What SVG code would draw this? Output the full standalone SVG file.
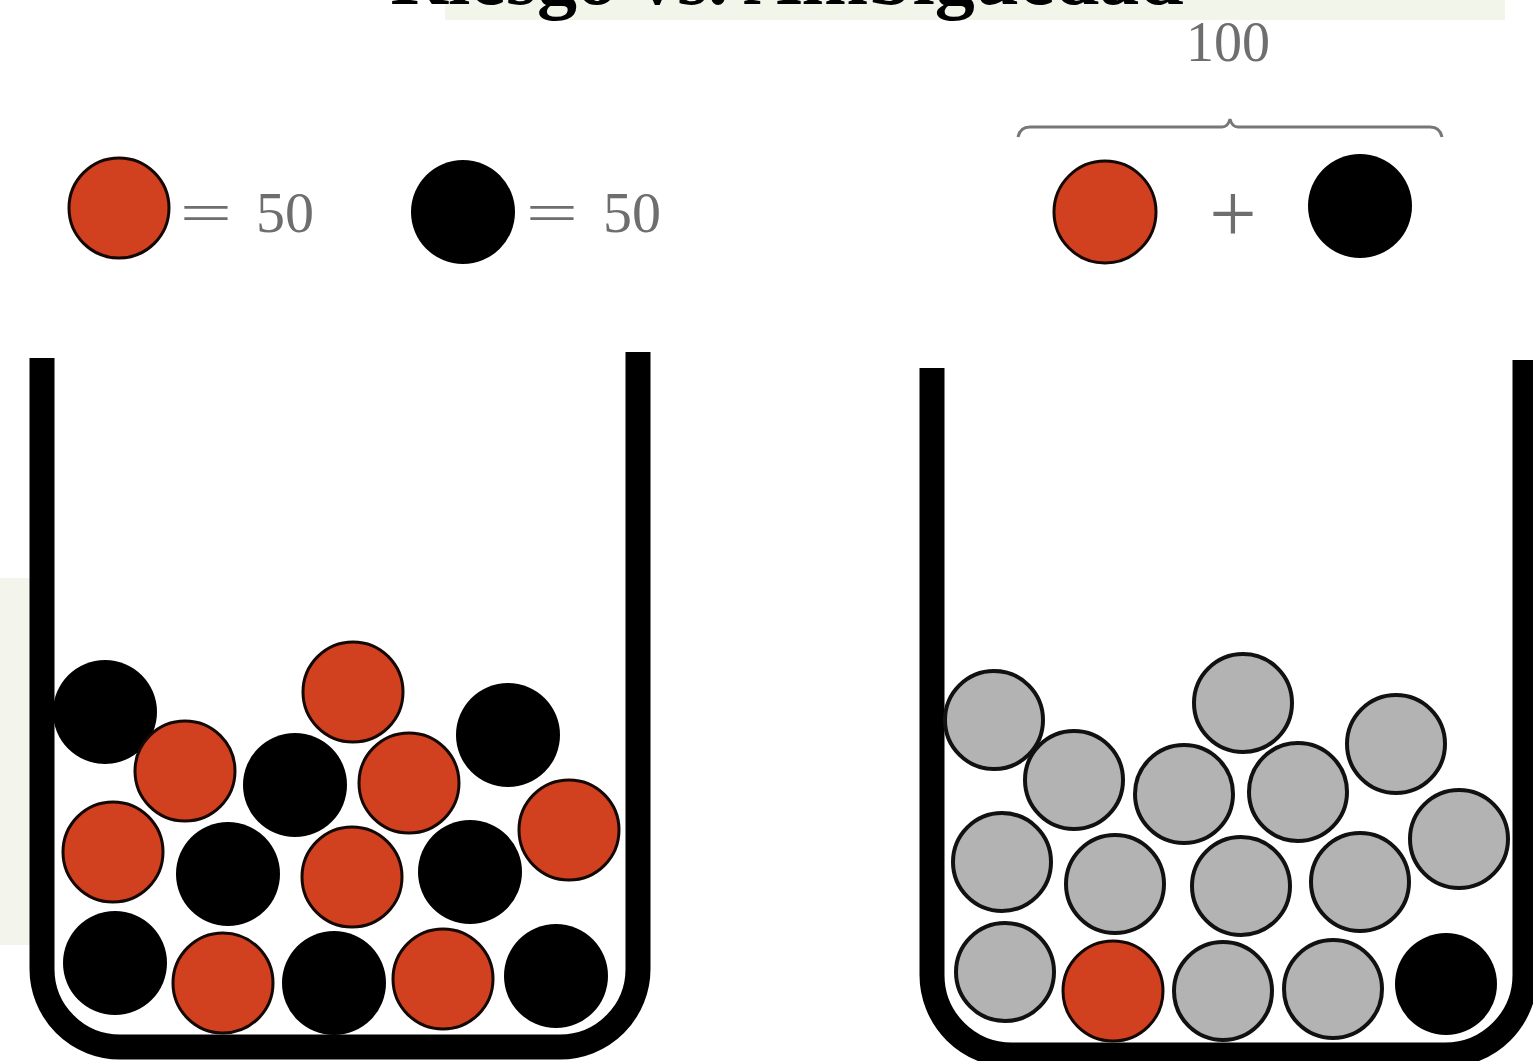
<svg xmlns="http://www.w3.org/2000/svg" width="1533" height="1061" viewBox="0 0 1533 1061">
  <style>
    .red { fill: #d1401f; stroke: #140804; stroke-width: 3; }
    .blk { fill: #000000; }
    .gry { fill: #b3b3b3; stroke: #111111; stroke-width: 4; }
    .jar { fill: none; stroke: #000000; stroke-width: 25; stroke-linejoin: round; }
    .num { font-family: "Liberation Serif", "DejaVu Serif", serif; fill: #6e6e6e; }
    .title { font-family: "Liberation Serif", "DejaVu Serif", serif; font-weight: bold; fill: #000000; }
  </style>
  <rect x="0" y="0" width="1533" height="1061" fill="#ffffff"/>
  <!-- faint watermark background -->
  <g id="watermark">
    <rect x="445" y="0" width="1060" height="20" fill="#f2f5ea"/>
    <rect x="0" y="578" width="30" height="367" fill="#f3f5ec"/>
  </g>
  <g id="title">
    <text class="title" x="787" y="4" font-size="80" text-anchor="middle">Riesgo vs. Ambigüedad</text>
  </g>

  <!-- Left legend -->
  <g id="legend-left">
    <circle class="red" cx="119" cy="208" r="50"/>
    <text class="num" transform="translate(206,232) scale(1.6,1)" font-size="58" text-anchor="middle">=</text>
    <text class="num" x="285" y="232" font-size="58" text-anchor="middle">50</text>
    <circle class="blk" cx="463" cy="212" r="52"/>
    <text class="num" transform="translate(552,232) scale(1.6,1)" font-size="58" text-anchor="middle">=</text>
    <text class="num" x="632" y="232" font-size="58" text-anchor="middle">50</text>
  </g>

  <!-- Right legend -->
  <g id="legend-right">
    <text class="num" x="1228" y="61" font-size="56" text-anchor="middle">100</text>
    <path d="M1018,137 Q1020,127 1030,127 H1222 Q1228,127 1230,119 Q1232,127 1238,127 H1430 Q1440,127 1442,137" fill="none" stroke="#777777" stroke-width="3"/>
    <circle class="red" cx="1105" cy="212" r="51"/>
    <text class="num" x="1233" y="242" font-size="84" text-anchor="middle">+</text>
    <circle class="blk" cx="1360" cy="206" r="52"/>
  </g>

  <!-- Left jar -->
  <g id="jar-left">
    <path class="jar" d="M42,358 V969 A78,78 0 0 0 120,1047 H560 A78,78 0 0 0 638,969 V352"/>
    <circle class="blk" cx="105" cy="712" r="52"/>
    <circle class="red" cx="353" cy="692" r="50"/>
    <circle class="blk" cx="508" cy="735" r="52"/>
    <circle class="red" cx="185" cy="771" r="50"/>
    <circle class="blk" cx="295" cy="785" r="52"/>
    <circle class="red" cx="409" cy="783" r="50"/>
    <circle class="red" cx="569" cy="830" r="50"/>
    <circle class="red" cx="113" cy="852" r="50"/>
    <circle class="blk" cx="228" cy="874" r="52"/>
    <circle class="red" cx="352" cy="877" r="50"/>
    <circle class="blk" cx="470" cy="872" r="52"/>
    <circle class="blk" cx="115" cy="963" r="52"/>
    <circle class="red" cx="223" cy="983" r="50"/>
    <circle class="blk" cx="334" cy="983" r="52"/>
    <circle class="red" cx="443" cy="979" r="50"/>
    <circle class="blk" cx="556" cy="976" r="52"/>
  </g>

  <!-- Right jar -->
  <g id="jar-right">
    <path class="jar" d="M932,368 V975 A80,80 0 0 0 1012,1055 H1445 A80,80 0 0 0 1525,975 V360"/>
    <circle class="gry" cx="994" cy="720" r="49"/>
    <circle class="gry" cx="1074" cy="780" r="49"/>
    <circle class="gry" cx="1184" cy="794" r="49"/>
    <circle class="gry" cx="1243" cy="703" r="49"/>
    <circle class="gry" cx="1298" cy="792" r="49"/>
    <circle class="gry" cx="1396" cy="744" r="49"/>
    <circle class="gry" cx="1002" cy="862" r="49"/>
    <circle class="gry" cx="1115" cy="884" r="49"/>
    <circle class="gry" cx="1241" cy="886" r="49"/>
    <circle class="gry" cx="1360" cy="882" r="49"/>
    <circle class="gry" cx="1459" cy="839" r="49"/>
    <circle class="gry" cx="1005" cy="972" r="49"/>
    <circle class="red" cx="1113" cy="991" r="50"/>
    <circle class="gry" cx="1223" cy="991" r="49"/>
    <circle class="gry" cx="1333" cy="989" r="49"/>
    <circle class="blk" cx="1446" cy="984" r="51"/>
  </g>
</svg>
